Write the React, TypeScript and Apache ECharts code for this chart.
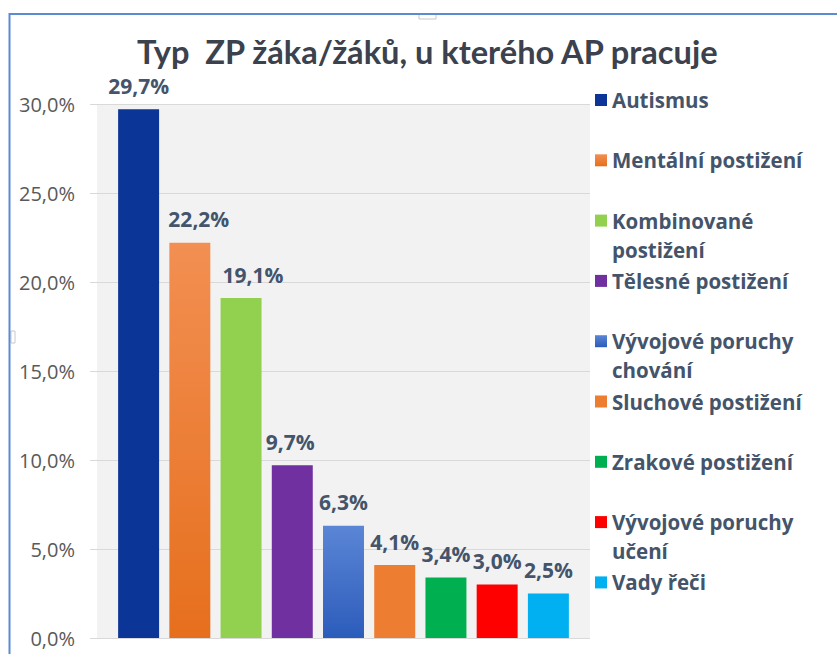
import React, { useEffect, useRef } from 'react';
import * as echarts from 'echarts';

const title = 'Typ  ZP žáka/žáků, u kterého AP pracuje';
const categories = [
  'Autismus',
  'Mentální postižení',
  'Kombinované postižení',
  'Tělesné postižení',
  'Vývojové poruchy chování',
  'Sluchové postižení',
  'Zrakové postižení',
  'Vývojové poruchy učení',
  'Vady řeči',
];
const legendLines = [
  'Autismus',
  'Mentální postižení',
  'Kombinované\npostižení',
  'Tělesné postižení',
  'Vývojové poruchy\nchování',
  'Sluchové postižení',
  'Zrakové postižení',
  'Vývojové poruchy\nučení',
  'Vady řeči',
];
const values = [29.7, 22.2, 19.1, 9.7, 6.3, 4.1, 3.4, 3.0, 2.5];
const yMin = 0;
const yMax = 30;
const yInterval = 5;

const barColors: (string | [string, string])[] = [
  '#0b3597',
  ['#f28f52', '#e66f1d'],
  '#92d050',
  '#7030a0',
  ['#5b86d6', '#2c5cbb'],
  '#ed7d31',
  '#00b050',
  '#ff0000',
  '#00b0f0',
];
const labelOffsets: [number, number][] = [
  [0, 0], [9, 0], [12, 0], [-2, 0], [0, 0], [0, 0], [0, 0], [0, 0], [0, 0],
];

const fmt = (v: number) => v.toFixed(1).replace('.', ',') + '%';

export default function App() {
  const ref = useRef<HTMLDivElement>(null);
  useEffect(() => {
    if (!ref.current) return;
    const chart = echarts.init(ref.current, undefined, { renderer: 'svg' });
    const colorOf = (c: string | [string, string]) =>
      Array.isArray(c)
        ? new echarts.graphic.LinearGradient(0, 0, 0, 1, [
            { offset: 0, color: c[0] },
            { offset: 1, color: c[1] },
          ])
        : c;

    const series = categories.map((name, i) => ({
      name,
      type: 'bar',
      xAxisIndex: 0,
      yAxisIndex: 0,
      stack: 'all',
      barWidth: '80%',
      data: values.map((v, j) => (j === i ? v : '-')),
      itemStyle: { color: colorOf(barColors[i]) },
      label: {
        show: true,
        position: 'top',
        distance: 13,
        offset: labelOffsets[i],
        formatter: (p: any) => fmt(p.value),
        fontFamily: 'Open Sans',
        fontSize: 21,
        fontWeight: 'bold',
        color: '#44546a',
      },
    }));

    const lh = 29;
    chart.setOption({
      animation: false,
      backgroundColor: '#ffffff',
      title: {
        text: title,
        left: 132,
        top: 35,
        padding: [0, 5, 0, 5],
        textStyle: {
          fontFamily: 'Lato',
          fontSize: 32.6,
          fontWeight: 'bold',
          color: '#3b414d',
        },
      },
      legend: {
        orient: 'vertical',
        left: 595,
        top: 100 - 6 - lh * 1.5 + 6,
        padding: 0,
        itemGap: 60.3 - lh * 3,
        itemWidth: 12,
        itemHeight: 12,
        icon: 'rect',
        selectedMode: false,
        textStyle: {
          fontFamily: 'Open Sans',
          fontSize: 20.5,
          fontWeight: 'bold',
          color: '#44546a',
          lineHeight: lh,
        },
        data: categories.map((c, i) => ({
          name: c,
          textStyle: {
            padding: legendLines[i].includes('\n') ? [0, 0, 0, 0] : [lh, 0, lh, 0],
            backgroundColor: 'rgba(255,255,255,0)',
          },
        })),
        formatter: (name: string) => {
          const t = legendLines[categories.indexOf(name)];
          return t.includes('\n') ? ' \n' + t : t;
        },
      },
      grid: [
        { left: 113, right: 263, top: 104, bottom: 16 },
        {
          left: 97,
          right: 247,
          top: 104,
          bottom: 16,
          show: true,
          backgroundColor: '#f2f2f2',
          borderWidth: 0,
        },
      ],
      xAxis: [
        { type: 'category', gridIndex: 0, data: categories, show: false },
        { type: 'category', gridIndex: 1, data: [''], show: false },
      ],
      yAxis: [
        { type: 'value', gridIndex: 0, min: yMin, max: yMax, interval: yInterval, show: false },
        {
          type: 'value',
          gridIndex: 1,
          min: yMin,
          max: yMax,
          interval: yInterval,
          axisLine: { show: false },
          axisTick: { show: true, length: 7, lineStyle: { color: '#d9d9d9' } },
          splitLine: { show: true, lineStyle: { color: '#d9d9d9', width: 1 } },
          axisLabel: {
            margin: 22,
            formatter: (v: number) => fmt(v),
            fontFamily: 'Open Sans',
            fontSize: 20,
            color: '#595959',
          },
        },
      ],
      series,
      graphic: [
        {
          type: 'rect',
          z: 100,
          shape: { x: 419, y: 14, width: 17, height: 5 },
          style: { fill: '#ffffff', stroke: '#c8c8c8', lineWidth: 1 },
        },
        {
          type: 'rect',
          z: 100,
          shape: { x: 11, y: 331, width: 4, height: 12 },
          style: { fill: '#ffffff', stroke: '#c8c8c8', lineWidth: 1 },
        },
        {
          type: 'polyline',
          z: 101,
          shape: { points: [[9.5, 654], [9.5, 14], [837, 14]] },
          style: { stroke: '#5b8bd3', lineWidth: 2, fill: 'none' },
        },
      ],
    });
    return () => chart.dispose();
  }, []);
  return (
    <div
      ref={ref}
      style={{ position: 'absolute', left: 0, top: 0, width: 837, height: 654 }}
    />
  );
}
